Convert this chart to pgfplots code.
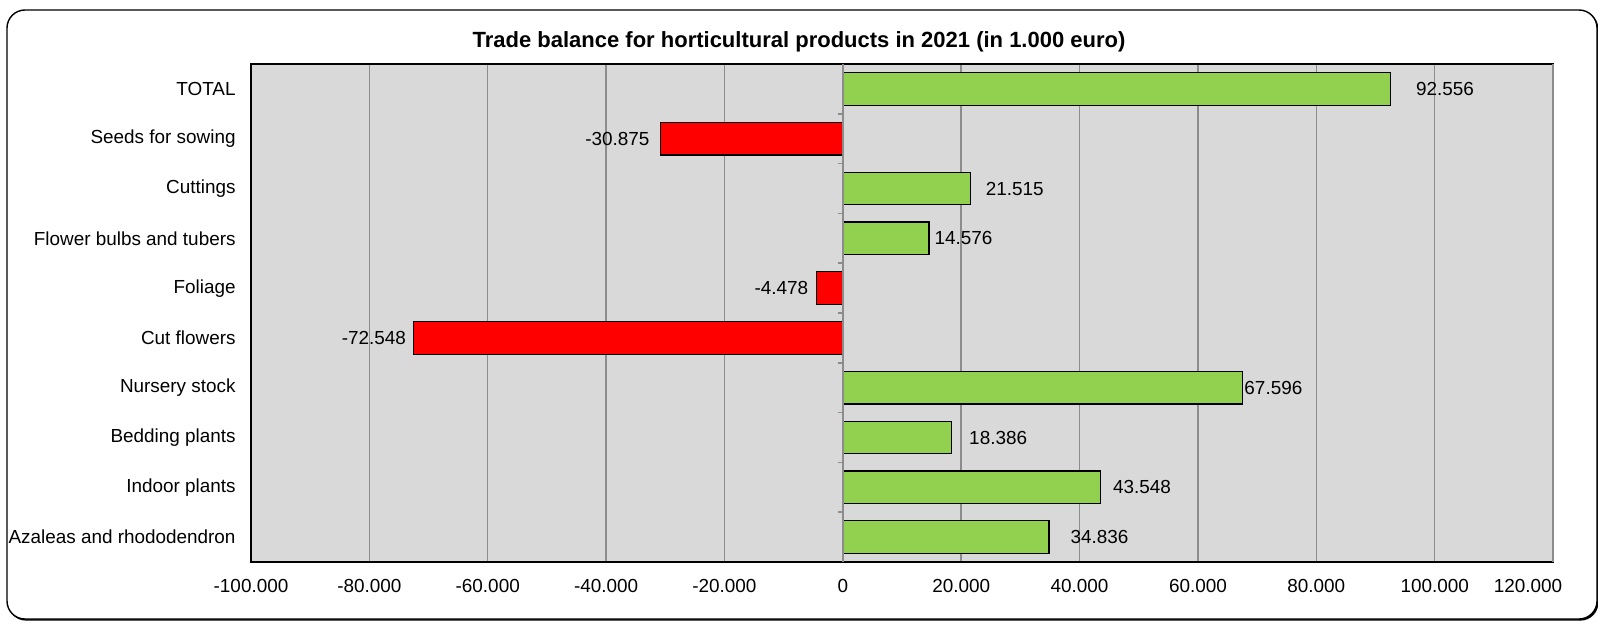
\documentclass[border=0pt]{standalone}
\usepackage{fontspec}
\setmainfont{Liberation Sans}
\usepackage{pgfplots}
\pgfplotsset{compat=1.18}
\usepackage{pgfplotstable}

\definecolor{posgreen}{HTML}{92D050}
\definecolor{negred}{HTML}{FF0000}
\definecolor{plotbg}{HTML}{D9D9D9}
\definecolor{gridgray}{HTML}{8C8C8C}

\newcommand\lab{\fontsize{9.45}{11}\selectfont}

% y = category index (0 = TOTAL at top), dx = label offset in pt
\pgfplotstableread{
y x dx label
0 92556 12.5 92.556
2 21515 7.5 21.515
3 14576 2.5 14.576
6 67596 0.5 67.596
7 18386 8.5 18.386
8 43548 6 43.548
9 34836 10.5 34.836
}\posdata
\pgfplotstableread{
y x dx label
1 -30875 5 -30.875
4 -4478 3.8 -4.478
5 -72548 3.5 -72.548
}\negdata

\begin{document}
\begin{tikzpicture}
\path[use as bounding box] (0,0) rectangle (799pt,-310.5pt);
\fill[black, rounded corners=9pt] (4pt,-5.5pt) rectangle (799.2pt,-310.3pt);
\draw[fill=white, rounded corners=9pt, line width=0.7pt] (3.5pt,-5pt) rectangle (798.5pt,-309.5pt);
\node[font=\fontsize{11}{13}\selectfont\bfseries, anchor=base] at (399.5pt,-23.5pt)
  {Trade balance for horticultural products in 2021 (in 1.000 euro)};

\begin{axis}[
    at={(125.5pt,-281pt)}, anchor=south west,
    scale only axis,
    width=651pt, height=249pt,
    xbar, bar shift=0pt, bar width=16.3pt,
    xmin=-100000, xmax=120000,
    ymin=-0.5, ymax=9.5,
    y dir=reverse,
    axis background/.style={fill=plotbg},
    axis line style={black, line width=0.6pt},
    xmajorgrids,
    grid style={gridgray, line width=0.75pt},
    xtick={-100000,-80000,-60000,-40000,-20000,0,20000,40000,60000,80000,100000},
    xticklabels={-100.000,-80.000,-60.000,-40.000,-20.000,0,20.000,40.000,60.000,80.000,100.000},
    extra x ticks={120000},
    extra x tick labels={120.000},
    extra x tick style={xticklabel style={xshift=-12.5pt}},
    ytick={0,...,9},
    yticklabels={TOTAL,Seeds for sowing,Cuttings,Flower bulbs and tubers,Foliage,Cut flowers,Nursery stock,Bedding plants,Indoor plants,Azaleas and rhododendron},
    tick style={draw=none},
    tick label style={font=\lab},
    xticklabel style={anchor=base, inner sep=0pt, yshift=-15pt},
    yticklabel style={anchor=east, inner sep=0pt, xshift=-3.25pt},
    point meta=explicit symbolic,
    nodes near coords,
]
\addplot[fill=posgreen, draw=black, line width=0.6pt,
    visualization depends on={\thisrow{dx} \as \dx},
    every node near coord/.append style={font=\lab, inner sep=0pt, anchor=west, xshift=\dx pt}]
    table[x=x, y=y, meta=label] {\posdata};
\addplot[fill=negred, draw=black, line width=0.6pt,
    visualization depends on={\thisrow{dx} \as \dx},
    every node near coord/.append style={font=\lab, inner sep=0pt, anchor=east, xshift=-\dx pt}]
    table[x=x, y=y, meta=label] {\negdata};
% zero line with category separators
\draw[gridgray, line width=0.75pt] (axis cs:0,-0.5) -- (axis cs:0,9.5);
\pgfplotsinvokeforeach{0.5,1.5,2.5,3.5,4.5,5.5,6.5,7.5,8.5}{
  \draw[gridgray, line width=0.75pt] (axis cs:0,#1) -- ++(-2.5pt,0pt);
}
\end{axis}
\end{tikzpicture}
\end{document}
